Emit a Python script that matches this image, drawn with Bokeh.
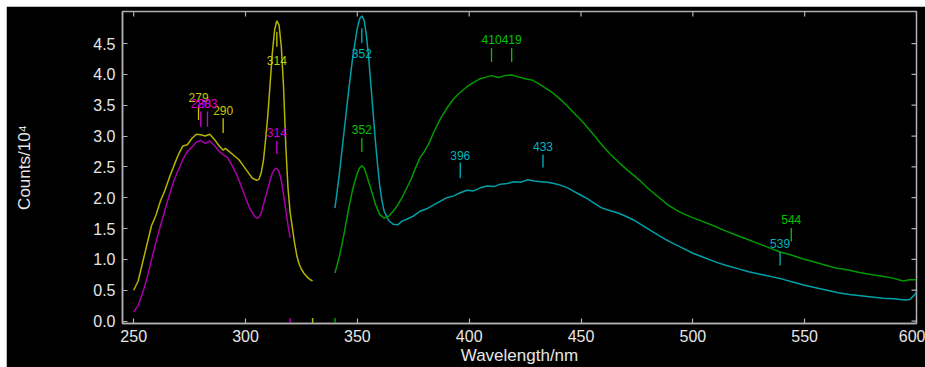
import math
from bokeh.plotting import figure
from bokeh.models import FixedTicker, ColumnDataSource, PrintfTickFormatter
from bokeh.embed import file_html
from bokeh.resources import INLINE
from bokeh.core.properties import value

# ---------------- data ----------------
yellow_x = [250, 252, 254, 256, 258, 260, 262, 264, 266, 268, 270, 272, 274, 276, 278, 280, 282, 284,
            286, 288, 290, 291, 293, 295, 297, 299, 301, 303, 305, 306, 307, 308, 309, 310, 311, 312,
            313, 314, 315, 316, 317, 318, 319, 320, 321, 322, 323, 324, 325, 326, 327, 328, 329, 330]
yellow_y = [0.50, 0.65, 0.95, 1.25, 1.55, 1.72, 1.95, 2.12, 2.33, 2.52, 2.70, 2.84, 2.86, 2.96, 3.03, 3.02, 3.00, 3.03,
            2.95, 2.85, 2.77, 2.80, 2.74, 2.68, 2.62, 2.52, 2.42, 2.32, 2.28, 2.30, 2.40, 2.60, 2.95, 3.35, 3.85, 4.35,
            4.72, 4.87, 4.80, 4.45, 3.80, 2.85, 2.15, 1.75, 1.50, 1.25, 1.05, 0.92, 0.84, 0.78, 0.74, 0.70, 0.67, 0.65]

magenta_x = [250, 252, 254, 256, 258, 260, 262, 264, 266, 268, 270, 272, 274, 276, 278, 280, 282, 284,
             286, 288, 290, 292, 294, 296, 298, 300, 302, 304, 305, 306, 307, 308, 309, 310, 311, 312,
             313, 314, 315, 316, 317, 318, 319, 320]
magenta_y = [0.15, 0.25, 0.45, 0.70, 1.00, 1.28, 1.55, 1.80, 2.05, 2.28, 2.45, 2.62, 2.75, 2.82, 2.90, 2.93, 2.88, 2.92,
             2.85, 2.76, 2.70, 2.65, 2.52, 2.38, 2.20, 2.00, 1.82, 1.70, 1.67, 1.68, 1.75, 1.88, 2.02, 2.15, 2.28, 2.40,
             2.46, 2.48, 2.42, 2.28, 2.05, 1.80, 1.55, 1.35]

cyan_x = [340, 342, 344, 346, 348, 350, 351, 352, 353, 354, 355, 356, 357, 358, 359, 360, 361, 362, 364, 366,
          368, 370, 372, 375, 378, 381, 384, 387, 390, 393, 396, 399, 402, 405, 408, 411, 414, 417, 420, 423,
          426, 429, 432, 435, 438, 441, 444, 447, 450, 453, 456, 459, 462, 466, 470, 474, 478, 482, 486, 490,
          495, 500, 505, 510, 515, 520, 525, 530, 535, 540, 545, 550, 555, 560, 565, 570, 575, 580, 585, 590,
          595, 597, 599, 600]
cyan_y = [1.83, 2.40, 3.05, 3.70, 4.30, 4.75, 4.90, 4.95, 4.88, 4.65, 4.30, 3.85, 3.40, 2.95, 2.55, 2.20, 1.95, 1.78, 1.63, 1.57,
          1.56, 1.62, 1.65, 1.70, 1.78, 1.82, 1.88, 1.94, 2.00, 2.03, 2.08, 2.12, 2.11, 2.16, 2.19, 2.18, 2.22, 2.23, 2.26, 2.25,
          2.29, 2.27, 2.26, 2.25, 2.23, 2.20, 2.16, 2.10, 2.04, 1.98, 1.91, 1.84, 1.80, 1.76, 1.70, 1.63, 1.54, 1.45, 1.36, 1.28,
          1.19, 1.10, 1.03, 0.96, 0.90, 0.85, 0.80, 0.76, 0.72, 0.68, 0.63, 0.58, 0.54, 0.50, 0.46, 0.43, 0.41, 0.39, 0.37, 0.36,
          0.34, 0.35, 0.42, 0.47]

green_x = [340, 342, 344, 346, 348, 350, 351, 352, 353, 354, 356, 358, 360, 362, 364, 366, 368, 370, 372, 374,
           376, 378, 380, 382, 384, 387, 390, 393, 396, 399, 402, 405, 408, 410, 413, 416, 419, 422, 425, 428,
           431, 434, 437, 440, 443, 447, 451, 455, 459, 463, 467, 471, 476, 480, 485, 489, 494, 499, 504, 509,
           514, 519, 524, 529, 534, 539, 544, 549, 554, 559, 564, 569, 574, 579, 584, 589, 594, 597, 600]
green_y = [0.78, 1.05, 1.40, 1.80, 2.15, 2.40, 2.48, 2.52, 2.48, 2.38, 2.15, 1.90, 1.73, 1.67, 1.70, 1.78, 1.88, 2.00, 2.15, 2.30,
           2.48, 2.65, 2.75, 2.88, 3.05, 3.27, 3.45, 3.60, 3.71, 3.80, 3.87, 3.93, 3.96, 3.98, 3.95, 3.98, 3.99, 3.96, 3.93, 3.91,
           3.85, 3.78, 3.71, 3.62, 3.52, 3.37, 3.22, 3.05, 2.87, 2.71, 2.57, 2.44, 2.29, 2.15, 2.00, 1.88, 1.77, 1.69, 1.62, 1.55,
           1.47, 1.40, 1.33, 1.26, 1.19, 1.12, 1.07, 1.01, 0.96, 0.91, 0.86, 0.83, 0.79, 0.76, 0.73, 0.70, 0.65, 0.67, 0.67]

# peak annotations: wavelength, label level, tick bottom, tick top (Counts/10^4)
peak_series = ["yellow", "yellow", "yellow", "magenta", "magenta", "magenta", "cyan", "cyan", "cyan", "cyan",
               "green", "green", "green", "green"]
peak_wl = [279, 290, 314, 280, 283, 314, 352, 396, 433, 539, 352, 410, 419, 544]
peak_label_y = [3.62, 3.41, 4.23, 3.52, 3.52, 3.06, 4.34, 2.68, 2.83, 1.26, 3.10, 4.57, 4.57, 1.64]
peak_tick_lo = [3.26, 3.05, 4.45, 3.15, 3.15, 2.71, 4.51, 2.32, 2.49, 0.90, 2.74, 4.20, 4.20, 1.29]
peak_tick_hi = [3.50, 3.29, 4.69, 3.40, 3.40, 2.92, 4.75, 2.57, 2.70, 1.12, 2.97, 4.43, 4.43, 1.51]

x_ticks = [250, 300, 350, 400, 450, 500, 550, 600]
y_ticks = [0.0, 0.5, 1.0, 1.5, 2.0, 2.5, 3.0, 3.5, 4.0, 4.5]
X_START, X_END = 245, 600
Y_START, Y_END = -0.04, 5.02

# ---------------- styles ----------------
line_colors = {"yellow": "#b4b400", "magenta": "#a800a8", "cyan": "#00a0a8", "green": "#009a00"}
text_colors = {"yellow": "#c8c800", "magenta": "#d000d0", "cyan": "#00b4be", "green": "#00c400"}
AX = "#b0b0b0"
LBL = "#e6e6e6"
FONT = "Liberation Sans"

p = figure(width=919, height=361, x_range=(X_START, X_END), y_range=(Y_START, Y_END),
           output_backend="svg", toolbar_location=None,
           background_fill_color="black", border_fill_color="black",
           min_border_left=116, min_border_right=9, min_border_top=5, min_border_bottom=43,
           x_axis_label="Wavelength/nm", y_axis_label="Counts/10\u2074")
p.margin = (6, 0, 0, 6)
p.grid.visible = False
p.outline_line_color = AX
p.outline_line_width = 1.5

for ax in (p.xaxis[0], p.yaxis[0]):
    ax.axis_line_color = AX
    ax.axis_line_width = 1.5
    ax.major_tick_line_color = AX
    ax.major_tick_line_width = 1.2
    ax.major_tick_in = 5
    ax.major_tick_out = 0
    ax.minor_tick_line_color = None
    ax.major_label_text_color = LBL
    ax.major_label_text_font = FONT
    ax.major_label_text_font_size = "16px"
    ax.axis_label_text_color = LBL
    ax.axis_label_text_font = FONT
    ax.axis_label_text_font_style = "normal"
    ax.axis_label_text_font_size = "17px"

p.xaxis.ticker = FixedTicker(ticks=x_ticks)
p.yaxis.ticker = FixedTicker(ticks=y_ticks)
p.yaxis.formatter = PrintfTickFormatter(format="%.1f")
p.xaxis.major_label_standoff = 6
p.xaxis.axis_label_standoff = 1
p.xaxis.major_label_text_line_height = 1.0
p.xaxis.axis_label_text_line_height = 1.0
p.yaxis.major_label_standoff = 7
p.yaxis.axis_label_standoff = 56

# mirrored tick marks on the top and right frame edges (half of each dash is clipped by the frame)
p.scatter(x=x_ticks, y=[Y_END] * len(x_ticks), marker="dash", angle=math.pi / 2, size=10,
          line_color=AX, line_width=1.2)
p.scatter(x=[X_END] * len(y_ticks), y=y_ticks, marker="dash", size=10,
          line_color=AX, line_width=1.2)

series = [("yellow", yellow_x, yellow_y), ("magenta", magenta_x, magenta_y),
          ("cyan", cyan_x, cyan_y), ("green", green_x, green_y)]
for name, xs, ys in series:
    p.line(xs, ys, line_color=line_colors[name], line_width=1.5)

# small colored marks on the x axis at the ends of the split spectra
end_x = [magenta_x[-1], yellow_x[-1], green_x[0]]
end_c = [line_colors["magenta"], line_colors["yellow"], line_colors["green"]]
p.segment(x0=end_x, x1=end_x, y0=[Y_START] * 3, y1=[0.05] * 3, line_color=end_c, line_width=1.5)

src = ColumnDataSource(dict(
    x=peak_wl, ty=peak_label_y, lo=peak_tick_lo, hi=peak_tick_hi,
    txt=[str(w) for w in peak_wl],
    lc=[text_colors[s] for s in peak_series],
))
p.segment(x0="x", x1="x", y0="lo", y1="hi", line_color="lc", line_width=1.3, source=src)
p.text(x="x", y="ty", text="txt", text_color="lc", text_font=value(FONT),
       text_font_size="12px", text_align="center", text_baseline="middle", source=src)

open("out.html", "w").write(file_html(p, INLINE))
